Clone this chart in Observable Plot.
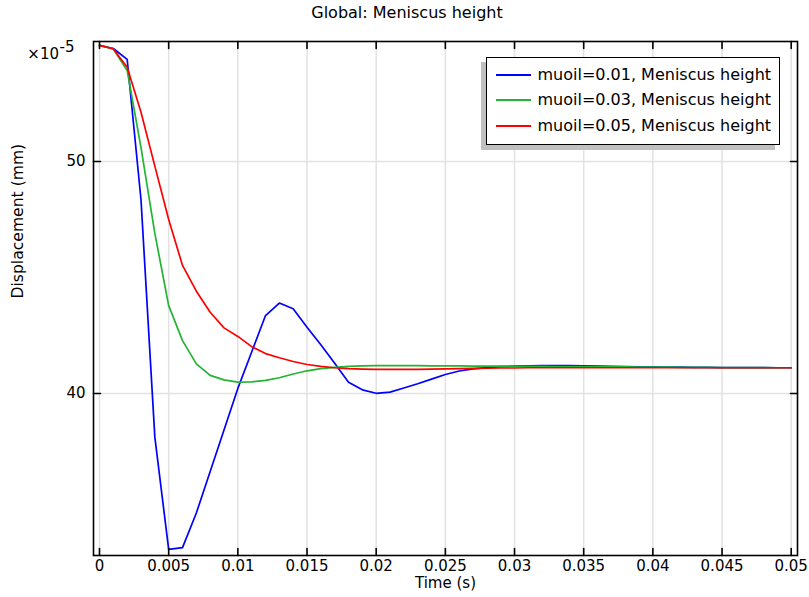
<!DOCTYPE html>
<html>
<head>
<meta charset="utf-8">
<script src="https://cdn.jsdelivr.net/npm/d3@7"></script>
<script src="https://cdn.jsdelivr.net/npm/@observablehq/plot@0.6"></script>
<style>
  body { margin: 0; background: #fff; font-family: "DejaVu Sans", sans-serif; }
  #wrap { position: relative; width: 809px; height: 597px; overflow: hidden; background: #fff; }
  #title { height: 26px; line-height: 26px; text-align: center; font-size: 16px; padding-left: 5px; box-sizing: border-box; color: #000; }
  #legend { position: absolute; left: 486px; top: 57px; width: 294px; height: 88px; border: 1.5px solid #000; background: #fff; box-shadow: -5px 5px 0 #c0c0c0; box-sizing: border-box; font-size: 16px; color: #000; }
  .sw { position: absolute; left: 8.5px; width: 35px; height: 2px; }
  .lt { position: absolute; left: 50.5px; height: 20px; line-height: 20px; white-space: nowrap; }
  #chart svg, #chart svg text { font-family: "DejaVu Sans", sans-serif !important; }
</style>
</head>
<body>
<div id="wrap">
  <div id="title">Global: Meniscus height</div>
  <div id="chart"></div>
  <div id="legend"></div>
</div>
<script>
// ---- data ----
const time = [0, 0.001, 0.002, 0.003, 0.004, 0.005, 0.006, 0.007, 0.008, 0.009,
  0.010, 0.011, 0.012, 0.013, 0.014, 0.015, 0.016, 0.017, 0.018, 0.019,
  0.020, 0.021, 0.022, 0.023, 0.024, 0.025, 0.026, 0.027, 0.028, 0.029,
  0.030, 0.031, 0.032, 0.033, 0.034, 0.035, 0.036, 0.037, 0.038, 0.039,
  0.040, 0.041, 0.042, 0.043, 0.044, 0.045, 0.046, 0.047, 0.048, 0.049, 0.050];

const muoil001 = [55.0, 54.87, 54.4, 48.35, 38.12, 33.28, 33.36, 34.85, 36.64, 38.43,
  40.22, 41.79, 43.36, 43.9, 43.65, 42.86, 42.1, 41.3, 40.49, 40.16,
  40.01, 40.06, 40.24, 40.42, 40.62, 40.82, 40.97, 41.06, 41.12, 41.16,
  41.18, 41.19, 41.2, 41.2, 41.2, 41.19, 41.18, 41.17, 41.16, 41.15,
  41.15, 41.14, 41.14, 41.13, 41.13, 41.12, 41.12, 41.12, 41.12, 41.11, 41.11];

const muoil003 = [55.0, 54.85, 53.92, 50.6, 46.9, 43.79, 42.28, 41.28, 40.78, 40.59,
  40.49, 40.5, 40.57, 40.68, 40.84, 40.98, 41.07, 41.13, 41.17, 41.19,
  41.2, 41.2, 41.2, 41.2, 41.19, 41.19, 41.19, 41.18, 41.18, 41.18,
  41.17, 41.17, 41.17, 41.16, 41.16, 41.16, 41.15, 41.15, 41.15, 41.14,
  41.14, 41.14, 41.13, 41.13, 41.13, 41.12, 41.12, 41.12, 41.12, 41.11, 41.11];

const muoil005 = [55.0, 54.85, 54.06, 52.12, 49.8, 47.5, 45.52, 44.41, 43.5, 42.83,
  42.46, 42.02, 41.72, 41.54, 41.38, 41.25, 41.17, 41.11, 41.07, 41.05,
  41.04, 41.04, 41.04, 41.04, 41.05, 41.06, 41.07, 41.08, 41.09, 41.1,
  41.1, 41.11, 41.11, 41.11, 41.11, 41.11, 41.11, 41.11, 41.11, 41.11,
  41.11, 41.11, 41.11, 41.11, 41.11, 41.11, 41.11, 41.11, 41.11, 41.11, 41.11];

const seriesNames = ["muoil=0.01, Meniscus height", "muoil=0.03, Meniscus height", "muoil=0.05, Meniscus height"];
const seriesColors = ["#0000ff", "#22b433", "#ff0000"];
const xTicks = [0, 0.005, 0.01, 0.015, 0.02, 0.025, 0.03, 0.035, 0.04, 0.045, 0.05];
const yTicks = [40, 50];
const xLabel = "Time (s)";
const yLabel = "Displacement (mm)";

// ---- chart ----
const tickShape = { draw(ctx, l) { ctx.moveTo(0, 0); ctx.lineTo(0, -l); } };
const tickOpts = { length: 7, anchor: "start", shape: tickShape, stroke: "black", strokeWidth: 1.6 };
const allSeries = [muoil001, muoil003, muoil005];

const chart = Plot.plot({
  width: 809,
  height: 571,
  marginTop: 15,
  marginBottom: 42,
  marginLeft: 93,
  marginRight: 12,
  style: "font-family: 'DejaVu Sans', sans-serif; font-size: 15px; background: white; color: black;",
  x: { domain: [-0.000434, 0.050455] },
  y: { domain: [33.02, 55.17] },
  marks: [
    Plot.gridX(xTicks, { stroke: "#e2e2e2", strokeOpacity: 1, strokeWidth: 1.5 }),
    Plot.gridY(yTicks, { stroke: "#e2e2e2", strokeOpacity: 1, strokeWidth: 1.5 }),
    ...allSeries.map((vals, k) => Plot.line(time, {
      x: d => d, y: (d, i) => vals[i],
      stroke: seriesColors[k], strokeWidth: 1.7, strokeLinejoin: "round"
    })),
    Plot.frame({ stroke: "black", strokeWidth: 1.6 }),
    Plot.vector(xTicks, { x: d => d, frameAnchor: "bottom", rotate: 0, ...tickOpts }),
    Plot.vector(xTicks, { x: d => d, frameAnchor: "top", rotate: 180, ...tickOpts }),
    Plot.vector(yTicks, { y: d => d, frameAnchor: "left", rotate: 90, ...tickOpts }),
    Plot.vector(yTicks, { y: d => d, frameAnchor: "right", rotate: -90, ...tickOpts }),
    Plot.axisX(xTicks, { tickSize: 0, tickPadding: 5, label: null, tickFormat: d => String(+d.toFixed(3)), fontSize: 15 }),
    Plot.axisY(yTicks, { tickSize: 0, tickPadding: 8, label: null, tickFormat: d => String(d), fontSize: 15 }),
    Plot.text([xLabel], { frameAnchor: "bottom", dy: 32.5, text: d => d, fontSize: 15 }),
    Plot.text([yLabel], { frameAnchor: "left", dx: -76, rotate: -90, text: d => d, fontSize: 15.6 }),
    Plot.text(["×10"], { frameAnchor: "top-left", dx: -34.5, dy: 6.5, textAnchor: "end", text: d => d, fontSize: 15 }),
    Plot.text(["-5"], { frameAnchor: "top-left", dx: -34, dy: -0.5, textAnchor: "start", text: d => d, fontSize: 15 })
  ]
});
document.getElementById("chart").appendChild(chart);

// ---- legend ----
const legend = document.getElementById("legend");
const rowCenters = [16.5, 42.2, 68.2];
seriesNames.forEach((name, k) => {
  const sw = document.createElement("div");
  sw.className = "sw";
  sw.style.top = (rowCenters[k] - 1) + "px";
  sw.style.background = seriesColors[k];
  legend.appendChild(sw);
  const lt = document.createElement("div");
  lt.className = "lt";
  lt.style.top = (rowCenters[k] - 10) + "px";
  lt.textContent = name;
  legend.appendChild(lt);
});
</script>
</body>
</html>
